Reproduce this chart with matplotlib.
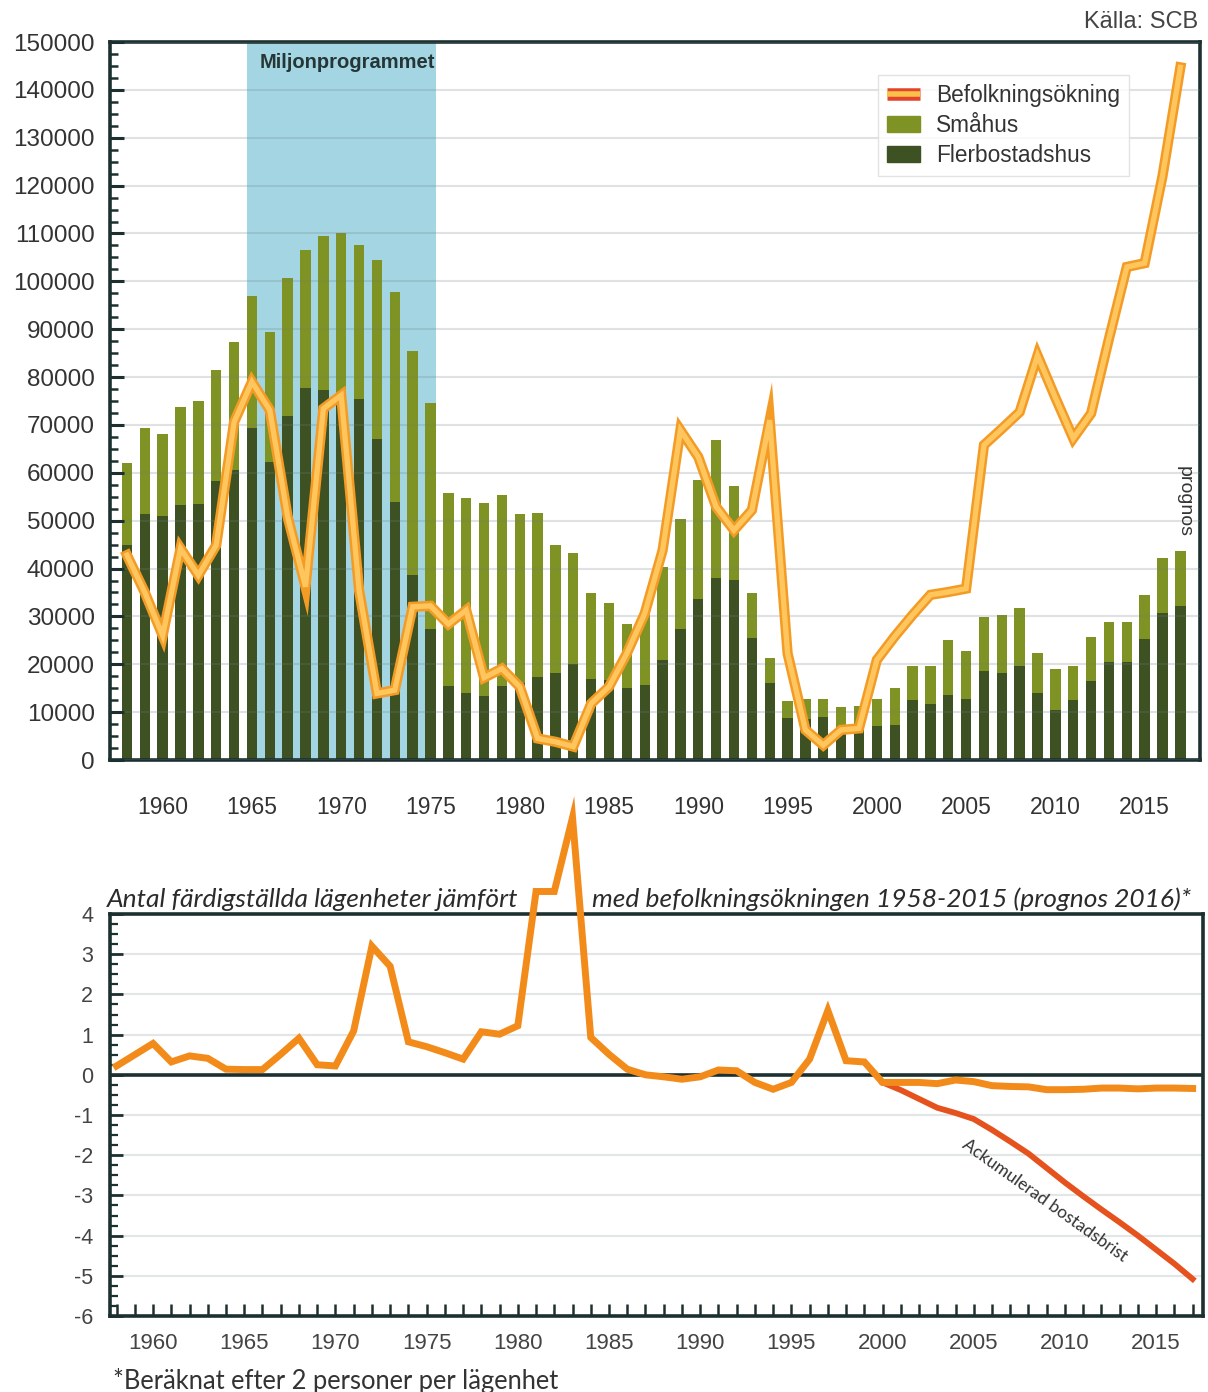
import matplotlib.pyplot as plt
from matplotlib.lines import Line2D
from matplotlib.patches import Patch
from matplotlib.ticker import MultipleLocator
import matplotlib.patheffects as pe

plt.rcParams['axes.unicode_minus'] = False

years = list(range(1958, 2018))

# Färdigställda lägenheter per år
flerbostadshus = [
    45000, 51300, 50900, 53300, 53500, 58200, 60500, 69400, 62200, 71900,
    77700, 77400, 76000, 75400, 67000, 53800, 38600, 27300, 15500, 14000,
    13400, 15500, 16000, 17400, 18100, 20100, 16900, 16700, 15100, 15700,
    20900, 27300, 33600, 38100, 37700, 25500, 16100, 8700, 8500, 8900,
    6500, 6500, 7200, 7300, 12500, 11600, 13500, 12700, 18600, 18200,
    19700, 14100, 10400, 12500, 16500, 20500, 20500, 25300, 30800, 32200,
]
smahus = [
    17000, 18000, 17300, 20500, 21500, 23200, 26800, 27600, 27200, 28700,
    28800, 32000, 34200, 32100, 37400, 43900, 46900, 47300, 40200, 40700,
    40300, 39800, 35300, 34100, 26800, 23100, 17900, 16200, 13400, 14900,
    19500, 23000, 24900, 28700, 19600, 9300, 5300, 3600, 4200, 3800,
    4500, 4800, 5500, 7800, 7200, 8100, 11600, 10100, 11200, 12100,
    12000, 8300, 8700, 7200, 9100, 8400, 8400, 9200, 11400, 11500,
]
befolkningsokning = [
    42800, 35000, 26000, 44200, 38600, 44900, 70600, 79000, 73100, 50800,
    36200, 73400, 76200, 35500, 13900, 14600, 32000, 32200, 28400, 31300,
    17200, 19100, 15300, 4500, 3800, 2800, 11800, 15300, 22300, 30600,
    43800, 68900, 63300, 52900, 48000, 52200, 71000, 22300, 6300, 3100,
    6300, 6600, 20900, 25800, 30300, 34500, 35100, 35800, 65800, 69200,
    72700, 84500, 75700, 67200, 72400, 88000, 103000, 103800, 122000, 144700,
]

# Lägenheter jämfört med befolkningsökningen (2 personer per lägenhet)
kvot = [
    0.22, 0.50, 0.78, 0.32, 0.47, 0.41, 0.14, 0.13, 0.13, 0.51,
    0.91, 0.25, 0.22, 1.09, 3.20, 2.70, 0.82, 0.70, 0.55, 0.39,
    1.07, 1.01, 1.22, 4.56, 4.56, 6.40, 0.93, 0.51, 0.14, 0.00,
    -0.05, -0.11, -0.05, 0.12, 0.10, -0.19, -0.36, -0.19, 0.39, 1.60,
    0.35, 0.32, -0.19, -0.19, -0.19, -0.22, -0.13, -0.17, -0.27, -0.29,
    -0.30, -0.37, -0.37, -0.36, -0.33, -0.33, -0.35, -0.33, -0.33, -0.34,
]
brist_years = list(range(2000, 2018))
ackumulerad_brist = [
    -0.19, -0.38, -0.60, -0.82, -0.95, -1.10, -1.37, -1.66, -1.96,
    -2.32, -2.68, -3.02, -3.35, -3.67, -4.00, -4.35, -4.70, -5.08,
]

dark = '#1d3030'
c_fler = '#3d5122'
c_smahus = '#7f9324'
c_shade = '#a3d5e2'
c_line_out = '#f39b24'
c_line_in = '#ffc65e'
txt = '#333333'

fig = plt.figure(figsize=(12.08, 13.92), dpi=100)
W, H = 1208, 1392

def box(l, t, r, b):
    return [l / W, 1 - b / H, (r - l) / W, (b - t) / H]

# ---------- övre diagrammet ----------
ax = fig.add_axes(box(110, 42, 1200, 760))
ax.set_xlim(1957.05, 2018.1)
ax.set_ylim(0, 150000)

bw = 0.58
ax.axvspan(1965 - bw / 2, 1975 + bw / 2, color=c_shade, zorder=0, lw=0)
ax.bar(years, flerbostadshus, width=bw, color=c_fler, zorder=1)
ax.bar(years, smahus, width=bw, bottom=flerbostadshus, color=c_smahus, zorder=1)
ax.plot(years, befolkningsokning, color=c_line_in, lw=3.8, zorder=4,
        solid_joinstyle='miter',
        path_effects=[pe.Stroke(linewidth=7.4, foreground=c_line_out), pe.Normal()])

ax.yaxis.set_major_locator(MultipleLocator(10000))
ax.yaxis.set_minor_locator(MultipleLocator(2500))
ax.set_xticks(range(1960, 2016, 5))
ax.tick_params(axis='y', which='major', direction='in', length=10, width=2.2,
               color=dark, labelsize=17.5, labelcolor=txt, pad=11)
ax.tick_params(axis='y', which='minor', direction='in', length=6, width=1.8, color=dark)
ax.tick_params(axis='x', length=0, labelsize=16.5, labelcolor=txt, pad=26)
for lab in ax.get_xticklabels() + ax.get_yticklabels():
    lab.set_fontfamily('Liberation Sans')
ax.grid(axis='y', color='#6f7f7f', alpha=0.22, lw=1.5)
ax.set_axisbelow(False)
for s in ax.spines.values():
    s.set_color(dark)
    s.set_linewidth(2.6)

ax.text(1970.33, 145700, 'Miljonprogrammet', ha='center', va='center',
        fontsize=14.5, fontweight='bold', color='#263636', family='Liberation Sans')
ax.text(2017.2, 53900, 'prognos', rotation=-90, ha='center', va='center',
        fontsize=14, color='#333333', family='Liberation Sans')

h_bef = (Line2D([], [], color='#e5432b', lw=9, solid_capstyle='butt'),
         Line2D([], [], color='#f8c24a', lw=4, solid_capstyle='butt'))
handles = [h_bef, Patch(color=c_smahus), Patch(color=c_fler)]
leg = ax.legend(handles, ['Befolkningsökning', 'Småhus', 'Flerbostadshus'],
                loc='upper left', bbox_to_anchor=(0.7046, 0.954),
                prop={'family': 'Liberation Sans', 'size': 16.3},
                frameon=True, fancybox=False, edgecolor='#dddddd',
                handlelength=1.45, handleheight=0.7, handletextpad=0.7,
                labelspacing=0.3, borderpad=0.4, borderaxespad=0)
leg.get_frame().set_linewidth(1.0)
for t in leg.get_texts():
    t.set_color('#333333')

fig.text(1198 / W, 1 - 22 / H, 'Källa: SCB', ha='right', va='center',
         fontsize=17, color='#444444', family='Liberation Sans')

# ---------- nedre diagrammet ----------
ax2 = fig.add_axes(box(110, 914, 1203, 1316))
ax2.set_xlim(1957.64, 2017.57)
ax2.set_ylim(-6, 4)
ax2.yaxis.set_major_locator(MultipleLocator(1))
ax2.yaxis.set_minor_locator(MultipleLocator(0.25))
ax2.set_xticks(range(1960, 2016, 5))
ax2.set_xticks(years, minor=True)
ax2.grid(axis='y', color='#e3e6e6', lw=1.5)
ax2.set_axisbelow(True)
ax2.axhline(0, color=dark, lw=2.6, zorder=2)

ax2.plot(brist_years, ackumulerad_brist, color='#e6521e', lw=4.2, zorder=3,
         solid_joinstyle='miter')
ax2.plot(years, kvot, color='#f28b1a', lw=5, zorder=4, clip_on=False,
         solid_joinstyle='miter')

ax2.tick_params(axis='y', which='major', direction='in', length=9, width=2,
                color=dark, labelsize=15.5, labelcolor='#444444', pad=12)
ax2.tick_params(axis='y', which='minor', direction='in', length=6, width=1.6, color=dark)
ax2.tick_params(axis='x', which='both', direction='in', length=9, width=1.8,
                color=dark, labelsize=16, labelcolor='#444444', pad=12)
for lab in ax2.get_xticklabels() + ax2.get_yticklabels():
    lab.set_fontfamily('Liberation Sans')
for s in ax2.spines.values():
    s.set_color(dark)
    s.set_linewidth(2.6)

ax2.text(2008.9, -3.13, 'Ackumulerad bostadsbrist', rotation=-35.5,
         ha='center', va='center', fontsize=12.5, color='#333333',
         family='Lato', rotation_mode='anchor')

fig.text(107 / W, 1 - 907 / H, 'Antal färdigställda lägenheter jämfört',
         ha='left', va='baseline', fontsize=19, style='italic',
         color='#2b2b2b', family='Lato')
fig.text(592 / W, 1 - 907 / H, 'med befolkningsökningen 1958-2015 (prognos 2016)*',
         ha='left', va='baseline', fontsize=19, style='italic',
         color='#2b2b2b', family='Lato')
fig.text(113 / W, 1 - 1381 / H, '*Beräknat efter 2 personer per lägenhet',
         ha='left', va='center', fontsize=18.4, color='#333333', family='Lato')

fig.savefig('out.png', dpi=100)
plt.close(fig)
